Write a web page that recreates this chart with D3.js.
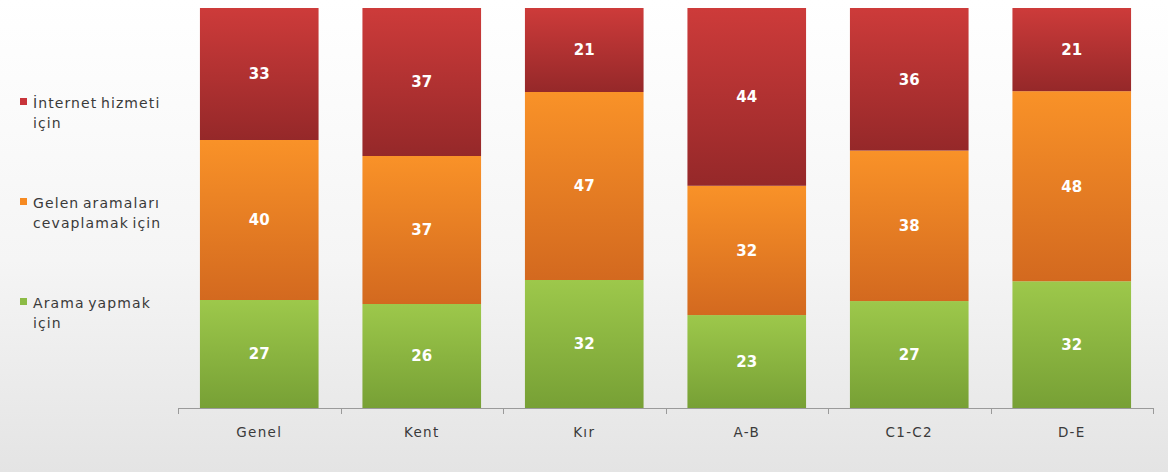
<!DOCTYPE html>
<html>
<head>
<meta charset="utf-8">
<script src="https://cdn.jsdelivr.net/npm/d3@7"></script>
<style>
  html, body { margin: 0; padding: 0; }
  body { width: 1168px; height: 472px; overflow: hidden; }
</style>
</head>
<body>
<svg id="chart" width="1168" height="472"></svg>
<script>
// Survey categories and the three stacked shares (bottom to top)
const categories = ["Genel", "Kent", "Kır", "A-B", "C1-C2", "D-E"];
const aramaYapmak = [27, 26, 32, 23, 27, 32];
const gelenAramalar = [40, 37, 47, 32, 38, 48];
const internetHizmeti = [33, 37, 21, 44, 36, 21];

const legendLines = [["İnternet hizmeti", "için"], ["Gelen aramaları", "cevaplamak için"], ["Arama yapmak", "için"]];

const width = 1168, height = 472;
const margin = { left: 178, right: 15, top: 8, bottom: 64 };
const textFont = "'DejaVu Sans', sans-serif";

const svg = d3.select("#chart");
const defs = svg.append("defs");

// Soft background wash
const bg = defs.append("linearGradient").attr("id", "bg").attr("x1", 0).attr("y1", 0).attr("x2", 0).attr("y2", 1);
bg.append("stop").attr("offset", "0%").attr("stop-color", "#ffffff");
bg.append("stop").attr("offset", "55%").attr("stop-color", "#f5f5f5");
bg.append("stop").attr("offset", "100%").attr("stop-color", "#e4e4e4");
svg.append("rect").attr("width", width).attr("height", height).attr("fill", "url(#bg)");

// Per-series fill gradients (light at the top of each segment, darker at the bottom)
const palette = [
  { id: "g-green", top: "#9dc84b", bottom: "#77a035", legend: "#8cbb45" },
  { id: "g-orange", top: "#f99228", bottom: "#d3691f", legend: "#f68a22" },
  { id: "g-red", top: "#cd3b3a", bottom: "#952829", legend: "#c8343a" }
];
palette.forEach(p => {
  const g = defs.append("linearGradient").attr("id", p.id).attr("x1", 0).attr("y1", 0).attr("x2", 0).attr("y2", 1);
  g.append("stop").attr("offset", "0%").attr("stop-color", p.top);
  g.append("stop").attr("offset", "100%").attr("stop-color", p.bottom);
});

const rows = categories.map((c, i) => {
  const vals = [aramaYapmak[i], gelenAramalar[i], internetHizmeti[i]];
  const total = d3.sum(vals);
  return { cat: c, a: vals[0] / total, b: vals[1] / total, c: vals[2] / total, raw: vals };
});

const stacked = d3.stack().keys(["a", "b", "c"])(rows);

const x = d3.scaleBand().domain(categories).range([margin.left, width - margin.right]).paddingInner(0.27).paddingOuter(0.135);
const y = d3.scaleLinear().domain([0, 1]).range([height - margin.bottom, margin.top]);

const layers = svg.append("g").selectAll("g").data(stacked).join("g")
  .attr("fill", (d, i) => `url(#${palette[i].id})`);

layers.selectAll("rect").data(d => d).join("rect")
  .attr("x", d => x(d.data.cat))
  .attr("width", x.bandwidth())
  .attr("y", d => y(d[1]))
  .attr("height", d => y(d[0]) - y(d[1]));

// Value labels centred in each segment
svg.append("g").selectAll("g").data(stacked).join("g")
  .each(function (layer, li) {
    d3.select(this).selectAll("text").data(layer).join("text")
      .attr("x", d => x(d.data.cat) + x.bandwidth() / 2)
      .attr("y", d => (y(d[0]) + y(d[1])) / 2)
      .attr("dy", "0.36em")
      .attr("text-anchor", "middle")
      .attr("fill", "#ffffff")
      .attr("font-family", textFont)
      .attr("font-weight", "bold")
      .attr("font-size", 15)
      .text(d => d.data.raw[li]);
  });

// Category axis with boundary ticks
const axisY = y(0);
const axisG = svg.append("g");
axisG.append("line")
  .attr("x1", margin.left).attr("x2", width - margin.right)
  .attr("y1", axisY + 0.5).attr("y2", axisY + 0.5)
  .attr("stroke", "#9a9a9a").attr("stroke-width", 1);
const boundaries = d3.range(categories.length + 1).map(i => margin.left + i * x.step());
axisG.selectAll("line.tick").data(boundaries).join("line")
  .attr("class", "tick")
  .attr("x1", d => Math.round(d) + 0.5).attr("x2", d => Math.round(d) + 0.5)
  .attr("y1", axisY).attr("y2", axisY + 6)
  .attr("stroke", "#9a9a9a");
axisG.selectAll("text").data(categories).join("text")
  .attr("x", d => x(d) + x.bandwidth() / 2)
  .attr("y", axisY + 29)
  .attr("text-anchor", "middle")
  .attr("fill", "#3a3a3a")
  .attr("font-family", textFont)
  .attr("font-size", 13.5)
  .attr("letter-spacing", 1.3)
  .text(d => d);

// Legend (top to bottom: red, orange, green)
const legend = svg.append("g");
const legendColors = [palette[2].legend, palette[1].legend, palette[0].legend];
legendLines.forEach((lines, i) => {
  const baseY = 108 + i * 100;
  legend.append("rect")
    .attr("x", 20).attr("y", baseY - 10)
    .attr("width", 7).attr("height", 7)
    .attr("fill", legendColors[i]);
  const t = legend.append("text")
    .attr("x", 33).attr("y", baseY)
    .attr("fill", "#3a3a3a")
    .attr("font-family", textFont)
    .attr("font-size", 14)
    .attr("letter-spacing", 1.1)
    .attr("word-spacing", -2);
  lines.forEach((ln, j) => {
    t.append("tspan").attr("x", 33).attr("dy", j === 0 ? 0 : 20).text(ln);
  });
});
</script>
</body>
</html>
